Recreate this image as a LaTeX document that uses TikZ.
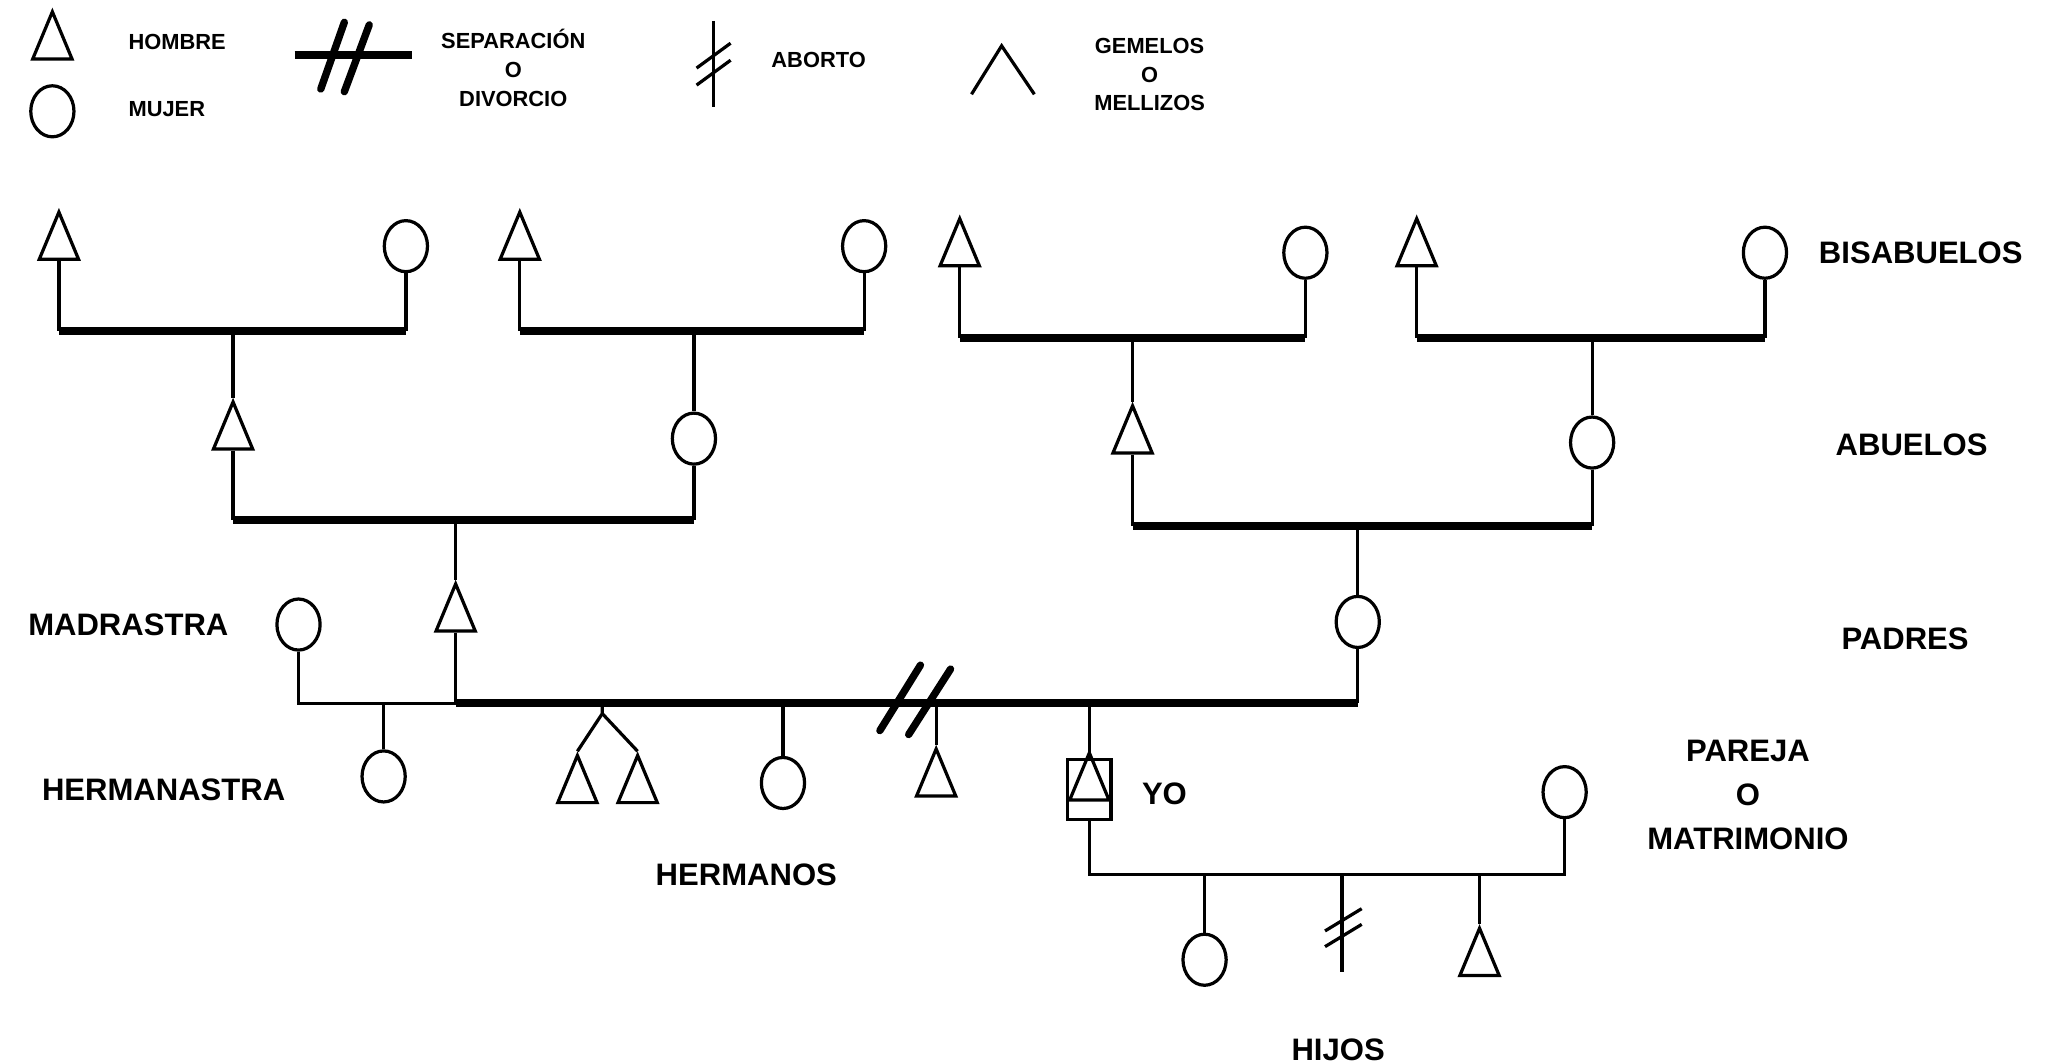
\documentclass[tikz,border=0pt]{standalone}
\usepackage{fontspec}
\setmainfont{Liberation Sans}
\usetikzlibrary{shapes.geometric}

\begin{document}
\begin{tikzpicture}[x=0.02cm,y=-0.02cm,
    hombre/.style={draw, isosceles triangle, isosceles triangle stretches, shape border rotate=90,
      minimum width=0.6cm, minimum height=0.72cm, inner sep=0pt, line width=1.4pt},
    mujer/.style={draw, ellipse, minimum width=0.66cm, minimum height=0.78cm, inner sep=0pt, line width=1.4pt},
    yocaja/.style={draw, minimum width=0.66cm, minimum height=0.92cm, inner sep=0pt, line width=1.4pt},
    union/.style={line width=3.4pt},
    linea/.style={line width=1.4pt},
    corte/.style={line width=3.2pt, line cap=round},
    etiqueta/.style={font=\bfseries\fontsize{13.5}{15}\selectfont},
    leyenda/.style={font=\bfseries\fontsize{9.5}{12.5}\selectfont, align=center}]
    \useasboundingbox (0,0) rectangle (1568,812);

    % leyenda
    \node[hombre] (lhombre) at (40,35) {};
    \node[leyenda, anchor=west] (thombre) at (92,32) {HOMBRE};
    \node[mujer] (lmujer) at (40,85) {};
    \node[leyenda, anchor=west] (tmujer) at (92,83) {MUJER};
    \coordinate (lsep1) at (225,42);
    \coordinate (lsep2) at (315,42);
    \draw[union] (lsep1) -- (lsep2);
    \draw[corte] (245,68) -- (263,17);
    \draw[corte] (263,70) -- (282,19);
    \node[leyenda] (tsep) at (392,52) {SEPARACIÓN\\O\\DIVORCIO};
    \coordinate (lab1) at (545,16);
    \coordinate (lab2) at (545,82);
    \draw[linea] (lab1) -- (lab2);
    \draw[linea] (532,52) -- (558,33);
    \draw[linea] (532,65) -- (558,46);
    \node[leyenda, anchor=west] (taborto) at (583,46) {ABORTO};
    \coordinate (lgem) at (765,35);
    \draw[linea] (742,72) -- (lgem) -- (790,72);
    \node[leyenda] (tgem) at (878,57) {GEMELOS\\O\\MELLIZOS};

    % bisabuelos
    \node[hombre] (b1) at (45,188) {};
    \node[mujer] (b2) at (310,188) {};
    \node[hombre] (b3) at (397,188) {};
    \node[mujer] (b4) at (660,188) {};
    \node[hombre] (b5) at (733,193) {};
    \node[mujer] (b6) at (997,193) {};
    \node[hombre] (b7) at (1082,193) {};
    \node[mujer] (b8) at (1348,193) {};

    % abuelos y padres
    \node[hombre] (a1) at (178,333) {};
    \node[mujer] (a2) at (530,335) {};
    \node[hombre] (a3) at (865,336) {};
    \node[mujer] (a4) at (1216,338) {};
    \node[hombre] (padre) at (348,472) {};
    \node[mujer] (madre) at (1037,475) {};
    \node[mujer] (madrastra) at (228,477) {};

    \coordinate (u1) at (178,253);
    \coordinate (u2) at (530,253);
    \coordinate (u3) at (865,258);
    \coordinate (u4) at (1216,258);
    \coordinate (u5) at (348,397);
    \coordinate (u6) at (1037,402);

    \foreach \h/\m/\u/\c in {b1/b2/u1/a1, b3/b4/u2/a2, b5/b6/u3/a3, b7/b8/u4/a4, a1/a2/u5/padre, a3/a4/u6/madre}{
      \draw[linea] (\h.south) -- (\h.south |- \u);
      \draw[linea] (\m.south) -- (\m.south |- \u);
      \draw[union] (\h.south |- \u) -- (\m.south |- \u);
      \draw[linea] (\u) -- (\c.north);
    }

    % hijos de los padres
    \node[mujer] (hermanastra) at (293,593) {};
    \node[hombre] (gemelo1) at (441,603) {};
    \node[hombre] (gemelo2) at (487,603) {};
    \node[mujer] (hermana) at (598,598) {};
    \node[hombre] (hermano) at (715,598) {};
    \node[yocaja] (caja) at (832,603) {};
    \node[hombre] (yo) at (832,601) {};
    \node[mujer] (pareja) at (1195,605) {};

    \coordinate (divorcio) at (700,537);
    \coordinate (gem) at (460,545);
    \draw[linea] (padre.south) -- (padre.south |- divorcio);
    \draw[linea] (madre.south) -- (madre.south |- divorcio);
    \draw[union] (padre.south |- divorcio) -- (madre.south |- divorcio);
    \draw[corte] ([shift={(-28,21)}]divorcio) -- ([shift={(3,-29)}]divorcio);
    \draw[corte] ([shift={(-6,24)}]divorcio) -- ([shift={(26,-26)}]divorcio);
    \draw[linea] (madrastra.south) |- (padre.south |- divorcio);
    \draw[linea] (hermanastra.north |- divorcio) -- (hermanastra.north);
    \draw[linea] (gem |- divorcio) -- (gem) -- (gemelo1.north);
    \draw[linea] (gem) -- (gemelo2.north);
    \draw[linea] (hermana.north |- divorcio) -- (hermana.north);
    \draw[linea] (hermano.north |- divorcio) -- (hermano.north);
    \draw[linea] (caja.north |- divorcio) -- (caja.north);

    % hijos
    \node[mujer] (hija) at (920,733) {};
    \node[hombre] (hijo) at (1130,735) {};
    \coordinate (u8) at (1025,668);
    \coordinate (aborto) at (1025,742);
    \draw[linea] (caja.south) |- (pareja.south |- u8) -- (pareja.south);
    \draw[linea] (hija.north |- u8) -- (hija.north);
    \draw[linea] (hijo.north |- u8) -- (hijo.north);
    \draw[linea] (u8) -- (aborto);
    \draw[linea] (1012,711) -- (1040,694);
    \draw[linea] (1012,723) -- (1040,706);

    % etiquetas
    \node[etiqueta] (tbis) at (1467,193) {BISABUELOS};
    \node[etiqueta] (tabu) at (1460,340) {ABUELOS};
    \node[etiqueta] (tpad) at (1455,488) {PADRES};
    \node[etiqueta] (tmadrastra) at (98,477) {MADRASTRA};
    \node[etiqueta] (thermanastra) at (125,603) {HERMANASTRA};
    \node[etiqueta] (thermanos) at (570,668) {HERMANOS};
    \node[etiqueta, anchor=west] (tyo) at (866,606) {YO};
    \node[etiqueta, align=center] (tpareja) at (1335,607) {PAREJA\\[4pt]O\\[4pt]MATRIMONIO};
    \node[etiqueta] (thijos) at (1022,802) {HIJOS};
\end{tikzpicture}
\end{document}
